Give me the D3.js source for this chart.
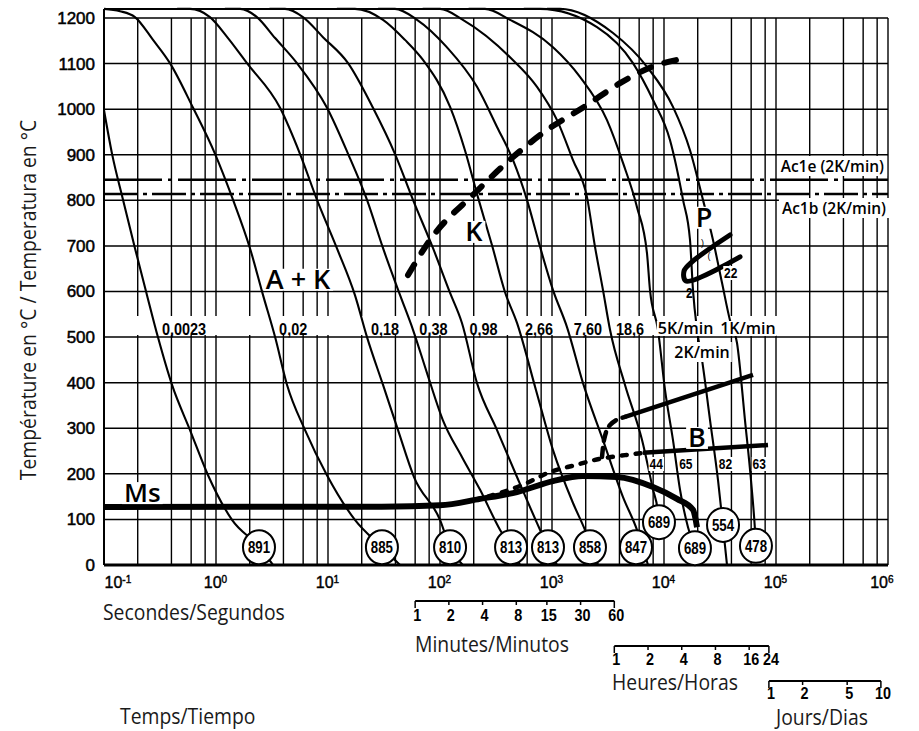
<!DOCTYPE html>
<html lang="fr">
<head>
<meta charset="utf-8">
<title>Diagramme TRC / Diagrama TRC</title>
<script src="https://cdn.jsdelivr.net/npm/d3@7/dist/d3.min.js"></script>
<style>
  html, body { margin: 0; padding: 0; background: #fff; }
  svg { display: block; }
</style>
</head>
<body>
<svg id="cct" width="919" height="731"></svg>
<script>
// ---------- axes ----------
const tempTicks = [0, 100, 200, 300, 400, 500, 600, 700, 800, 900, 1000, 1100, 1200];
const decadeTicks = [1e-1, 1e0, 1e1, 1e2, 1e3, 1e4, 1e5, 1e6];
const decadeExponents = ["-1", "0", "1", "2", "3", "4", "5", "6"];
const gridSteps = [1, 2, 4, 6, 8];
const minuteTicks = [1, 2, 4, 8, 15, 30, 60];
const hourTicks = [1, 2, 4, 8, 16, 24];
const dayTicks = [1, 2, 5, 10];

// ---------- reference temperatures (°C) ----------
const austenitizingTemp = 1220;
const ac1eTemp = 845;
const ac1bTemp = 814;

// ---------- cooling curves: [time s, temperature °C] ----------
const curve1 = [[0.1,998],[0.118,902],[0.148,801],[0.189,695],[0.242,592],[0.303,500],[0.405,395],[0.586,296],[0.849,197],[1.39,99],[2.45,39],[3.23,0]];
const curve2 = [[0.1,1220],[0.139,1215],[0.189,1202],[0.274,1152],[0.388,1101],[0.624,1003],[0.98,902],[1.42,801],[2.01,695],[2.63,592],[3.37,500],[4.31,395],[6.24,296],[9.79,197],[17.4,99],[30.3,39],[44.0,0]];
const curve3 = [[0.45,1220],[0.586,1220],[0.883,1202],[1.28,1156],[1.89,1101],[3.73,1003],[5.62,902],[7.98,801],[12.0,695],[17.4,592],[22.3,500],[31.0,395],[42.2,296],[58.6,193],[100,99],[123,39],[160,0]];
const curve4 = [[1.2,1220],[1.64,1220],[2.32,1202],[3.37,1156],[5.28,1101],[9.8,1003],[15.1,902],[22.3,801],[31.0,695],[44.0,592],[57.4,516],[76.6,421],[106,318],[157,237],[228,165],[344,77],[431,39],[518,0]];
const curve5 = [[3.0,1220],[4.13,1220],[5.98,1202],[9.02,1158],[15.1,1101],[25.2,1003],[39.6,902],[57.4,801],[86.6,695],[123,597],[157,531],[214,399],[323,296],[487,193],[735,92],[921,39],[1109,0]];
const curve6 = [[12,1220],[17.4,1220],[31.0,1196],[48.7,1152],[70.5,1108],[123,1005],[167,910],[218,807],[291,702],[380,599],[487,531],[719,384],[1021,252],[1540,136],[1970,77],[2576,0]];
const curve7 = [[28,1220],[39.6,1220],[62.4,1196],[115,1136],[214,1049],[323,961],[449,888],[598,801],[782,698],[1021,603],[1361,522],[1892,399],[2853,274],[4306,149],[5741,77],[7197,0]];
const curve8 = [[70,1220],[100,1220],[160,1196],[422,1114],[735,1049],[1109,976],[1540,888],[2053,807],[2421,698],[2853,603],[3296,516],[4487,395],[6368,274],[7983,165],[8836,116],[9020,94]];
const curve9 = [[180,1220],[252,1220],[422,1196],[1021,1136],[1778,1071],[3097,976],[4306,882],[5741,785],[7047,684],[7499,603],[8836,516],[10210,384],[12030,274],[13900,165],[16380,83],[18900,37],[20940,0]];
const curve10 = [[560,1220],[782,1220],[2523,1180],[5284,1101],[7983,1020],[11320,932],[14790,801],[17070,713],[18150,603],[19720,516],[21850,450],[25760,318],[30360,186],[32960,105],[36520,0]];
const curve11 = [[900,1220],[1178,1220],[3507,1167],[7047,1093],[12030,1005],[17070,910],[22290,801],[27380,713],[32960,619],[38820,537],[44870,487],[52840,318],[59800,186],[64940,77],[66220,42]];
const coolingCurves = [curve1, curve2, curve3, curve4, curve5, curve6, curve7, curve8, curve9, curve10, curve11];

// cooling parameter of each curve and the hardness (HV) reached at its end
const coolingRates = ["0,0023", "0,02", "0,18", "0,38", "0,98", "2,66", "7,60", "18,6", "5K/min", "2K/min", "1K/min"];
const hardnessHV = [891, 885, 810, 813, 813, 858, 847, 689, 689, 554, 478];
const hardnessAt = [[2.42,39],[30.3,39],[123,39],[431,39],[921,39],[2183,39],[5623,39],[9020,94],[18900,37],[33650,88],[66220,42]];

// ---------- transformation lines ----------
const msLine = [[0.1,127],[30,128],[100,131],[228,145],[487,160],[1021,184],[1892,195],[3805,193],[7983,171],[13060,145],[18150,121],[19720,83]];
const carbideStart = [[51.8,636],[81.4,713],[205,816],[449,895],[832,948],[2053,1009],[4047,1057],[8660,1097],[13060,1108]];
const bainiteUpperDashed = [[2795,237],[2913,274],[3296,307],[4487,325]];
const bainiteUpper = [[4487,325],[62370,417]];
const bainiteLowerDashed = [[205,143],[344,158],[574,178],[960,204],[1603,219],[2685,233],[4487,241],[6494,246]];
const bainiteLower = [[6494,246],[84850,263]];
const pearliteStart = [[38820,724],[17780,665],[15100,645],[15710,623],[47730,676]];

// phase percentages written next to curves
const bainitePercent = ["44", "65", "82", "63"];       // curves 8..11
const pearlitePercent = ["2", "22"];                  // curves 10, 11

// ---------- drawing ----------
const svg = d3.select("#cct");
const x = d3.scaleLog().domain([0.1, 1e6]).range([104, 888]);
const y = d3.scaleLinear().domain([0, 1200]).range([565, 18]);

const NUM = "'Liberation Sans', Arial, Helvetica, sans-serif";
const SANS = "'Open Sans', 'DejaVu Sans', sans-serif";

const line = d3.line().x(d => x(d[0])).y(d => y(d[1]));
const smooth = d3.line().x(d => x(d[0])).y(d => y(d[1])).curve(d3.curveMonotoneX);

// screen x where a curve reaches a given temperature
function xAtTemp(curve, T) {
  for (let i = 1; i < curve.length; i++) {
    const a = curve[i - 1], b = curve[i];
    if ((a[1] - T) * (b[1] - T) <= 0 && a[1] !== b[1]) {
      const f = (a[1] - T) / (a[1] - b[1]);
      return x(a[0]) + f * (x(b[0]) - x(a[0]));
    }
  }
  return x(curve[curve.length - 1][0]);
}

// text helper with optional horizontal squeeze and white backing box
function label(parent, px, py, str, o) {
  const g = parent.append("g").attr("transform", `translate(${px},${py})`);
  const inner = g.append("g").attr("transform", `scale(${o.sx || 1},1)`);
  const t = inner.append("text")
    .attr("text-anchor", o.anchor || "start")
    .attr("font-family", o.family || SANS)
    .attr("font-size", o.size)
    .attr("font-weight", o.weight || "normal")
    .attr("fill", o.fill || "#000")
    .text(str);
  if (o.stroke) t.attr("stroke", o.fill || "#000").attr("stroke-width", o.stroke);
  if (o.box) {
    const b = t.node().getBBox();
    const top = o.boxTop != null ? o.boxTop : 0.8 * o.size;
    const bot = o.boxBottom != null ? o.boxBottom : 0.25 * o.size;
    inner.insert("rect", "text")
      .attr("x", b.x - o.box).attr("width", b.width + 2 * o.box)
      .attr("y", -top).attr("height", top + bot)
      .attr("fill", "#fff");
  }
  return t;
}

const gGrid = svg.append("g");
const gMarks = svg.append("g");
const gLabels = svg.append("g");

// vertical grid
const gridTimes = [];
for (let e = -1; e <= 5; e++) gridSteps.forEach(k => gridTimes.push(+(k * Math.pow(10, e)).toPrecision(3)));
gridTimes.push(1e6);
gGrid.selectAll("line.v").data(gridTimes).join("line")
  .attr("x1", d => x(d)).attr("x2", d => x(d))
  .attr("y1", y(1200)).attr("y2", y(0))
  .attr("stroke", "#000").attr("stroke-width", 1.4);

// horizontal grid
gGrid.selectAll("line.h").data(tempTicks).join("line")
  .attr("x1", x(0.1)).attr("x2", x(1e6))
  .attr("y1", d => y(d)).attr("y2", d => y(d))
  .attr("stroke", "#000").attr("stroke-width", d => d === 0 ? 2.8 : 1.5);

// band that carries the cooling-rate labels
gGrid.append("rect")
  .attr("x", x(0.1) + 1.5).attr("width", 779 - x(0.1) - 1.5)
  .attr("y", 316).attr("height", 19).attr("fill", "#fff");

// left frame and austenitizing level
gGrid.append("line")
  .attr("x1", x(0.1)).attr("x2", x(0.1))
  .attr("y1", y(austenitizingTemp)).attr("y2", y(0))
  .attr("stroke", "#000").attr("stroke-width", 2);
gGrid.append("line")
  .attr("x1", x(0.1)).attr("x2", x(curve11[1][0]) + 4)
  .attr("y1", y(austenitizingTemp)).attr("y2", y(austenitizingTemp))
  .attr("stroke", "#000").attr("stroke-width", 2);

// Ac1e / Ac1b
gMarks.append("line")
  .attr("x1", x(0.1)).attr("x2", x(1e6))
  .attr("y1", y(ac1eTemp)).attr("y2", y(ac1eTemp))
  .attr("stroke", "#000").attr("stroke-width", 2.6)
  .attr("stroke-dasharray", "58,6,4,6");
gMarks.append("line")
  .attr("x1", x(0.1)).attr("x2", x(1e6))
  .attr("y1", y(ac1bTemp)).attr("y2", y(ac1bTemp))
  .attr("stroke", "#000").attr("stroke-width", 2.6)
  .attr("stroke-dasharray", "34,5,4,5");

// cooling curves
gMarks.selectAll("path.cool").data(coolingCurves).join("path")
  .attr("d", smooth).attr("fill", "none")
  .attr("stroke", "#000").attr("stroke-width", 2.1);

// Ms
gMarks.append("path").attr("d", smooth(msLine))
  .attr("fill", "none").attr("stroke", "#000").attr("stroke-width", 6);

// bainite lines
gMarks.append("path").attr("d", smooth(bainiteLowerDashed))
  .attr("fill", "none").attr("stroke", "#000").attr("stroke-width", 4.5)
  .attr("stroke-linecap", "round").attr("stroke-dasharray", "5,9");
gMarks.append("path").attr("d", line(bainiteLower))
  .attr("fill", "none").attr("stroke", "#000").attr("stroke-width", 4.5);
gMarks.append("path").attr("d", smooth(bainiteUpperDashed))
  .attr("fill", "none").attr("stroke", "#000").attr("stroke-width", 4.5)
  .attr("stroke-linecap", "round").attr("stroke-dasharray", "9,7");
gMarks.append("path").attr("d", line(bainiteUpper))
  .attr("fill", "none").attr("stroke", "#000").attr("stroke-width", 4.5);

// carbide start (dashed)
gMarks.append("path").attr("d", smooth(carbideStart))
  .attr("fill", "none").attr("stroke", "#000").attr("stroke-width", 6)
  .attr("stroke-linecap", "round").attr("stroke-dasharray", "12,14");

// pearlite start
gMarks.append("path")
  .attr("d", d3.line().x(d => x(d[0])).y(d => y(d[1])).curve(d3.curveCatmullRom.alpha(0.5))(pearliteStart))
  .attr("fill", "none").attr("stroke", "#000").attr("stroke-width", 5)
  .attr("stroke-linejoin", "round").attr("stroke-linecap", "round");

// ---------- axes ----------
const yAxis = d3.axisLeft(y).tickValues(tempTicks).tickSize(0).tickPadding(9).tickFormat(d3.format("d"));
svg.append("g").attr("transform", `translate(${x(0.1)},0)`).call(yAxis)
  .call(g => g.select(".domain").remove())
  .call(g => g.selectAll("text")
    .attr("font-family", NUM).attr("font-size", 17).attr("fill", "#000")
    .attr("stroke", "#000").attr("stroke-width", 0.5));

const xAxis = d3.axisBottom(x).tickValues(decadeTicks).tickSize(0).tickPadding(12).tickFormat(() => "10");
const xg = svg.append("g").attr("transform", `translate(0,${y(0)})`).call(xAxis);
xg.select(".domain").remove();
xg.selectAll(".tick text")
  .attr("font-family", NUM).attr("font-size", 16).attr("fill", "#000")
  .attr("stroke", "#000").attr("stroke-width", 0.4)
  .attr("x", (d, i) => i === 0 ? 0 : (i === decadeTicks.length - 1 ? 5 : -1))
  .attr("text-anchor", (d, i) => i === 0 ? "start" : (i === decadeTicks.length - 1 ? "end" : "middle"))
  .each(function (d, i) {
    d3.select(this).append("tspan").attr("dy", "-0.5em").attr("font-size", 10)
      .text(decadeExponents[i]);
  });

// ---------- labels on the diagram ----------
const rateOpts = { family: NUM, size: 17, weight: "bold", sx: 0.85 };
coolingCurves.forEach((c, i) => {
  if (i < 8) {
    label(gLabels, xAtTemp(c, 500) + 4, 335, coolingRates[i], rateOpts);
  }
});
label(gLabels, xAtTemp(curve9, 500) - 1, 334, coolingRates[8], { size: 16, weight: 600, box: 1, boxTop: 13, boxBottom: 2 });
label(gLabels, xAtTemp(curve11, 500) - 15, 334, coolingRates[10], { size: 16, weight: 600, box: 1, boxTop: 13, boxBottom: 2 });
label(gLabels, xAtTemp(curve10, 450), 358, coolingRates[9], { size: 16, weight: 600, anchor: "middle", box: 2, boxTop: 16, boxBottom: 4 });

// bainite percentages below the lower bainite line
[curve8, curve9, curve10, curve11].forEach((c, i) => {
  label(gLabels, xAtTemp(c, 240) + 4, 469, bainitePercent[i],
    { family: NUM, size: 15, weight: "bold", sx: 0.8, box: 1, boxTop: 12, boxBottom: 2 });
});
// pearlite percentages
label(gLabels, xAtTemp(curve10, 590) - 1, 298, pearlitePercent[0],
  { family: NUM, size: 15, weight: "bold", sx: 0.8, anchor: "end" });
label(gLabels, xAtTemp(curve11, 650) + 5, 278, pearlitePercent[1],
  { family: NUM, size: 15, weight: "bold", sx: 0.8, box: 1, boxTop: 12, boxBottom: 2 });
// small crossing ticks on the pearlite band
label(gLabels, x(21400), y(700), ")", { family: NUM, size: 9 });
label(gLabels, x(24500), y(672), "(", { family: NUM, size: 9 });

// Ac labels
label(gLabels, 884, 172, "Ac1e (2K/min)", { size: 15.5, weight: 600, anchor: "end", box: 3, boxTop: 16, boxBottom: 4 });
label(gLabels, 886, 214, "Ac1b (2K/min)", { size: 15.5, weight: 600, anchor: "end", box: 3, boxTop: 16, boxBottom: 4 });

// phase fields
const phaseOpts = { size: 27, weight: 600, anchor: "middle", box: 2, boxTop: 20, boxBottom: 2 };
label(gLabels, x(5.4), y(606), "A + K", phaseOpts);
label(gLabels, x(201), y(711), "K", phaseOpts);
label(gLabels, x(22750), y(742), "P", phaseOpts);
label(gLabels, x(19720), y(259), "B", phaseOpts);
label(gLabels, x(0.151), y(138), "Ms", { size: 26, weight: 600, box: 2, boxTop: 20, boxBottom: 2 });

// hardness circles
const gH = gLabels.selectAll("g.hv").data(hardnessHV).join("g")
  .attr("transform", (d, i) => `translate(${x(hardnessAt[i][0])},${y(hardnessAt[i][1])})`);
gH.append("ellipse").attr("rx", 16).attr("ry", 17)
  .attr("fill", "#fff").attr("stroke", "#000").attr("stroke-width", 2);
gH.append("text").attr("text-anchor", "middle").attr("dy", "0.36em")
  .attr("transform", "scale(0.78,1)")
  .attr("font-family", NUM).attr("font-size", 17).attr("font-weight", "bold")
  .text(d => d);

// ---------- secondary time scales ----------
function timeBracket(ticks, unitSeconds, yLine, yText) {
  const g = svg.append("g");
  const xs = ticks.map(v => x(v * unitSeconds));
  g.append("line").attr("x1", xs[0]).attr("x2", xs[xs.length - 1])
    .attr("y1", yLine).attr("y2", yLine).attr("stroke", "#000").attr("stroke-width", 2);
  g.selectAll("line.t").data(ticks).join("line")
    .attr("x1", d => x(d * unitSeconds)).attr("x2", d => x(d * unitSeconds))
    .attr("y1", yLine).attr("y2", (d, i) => yLine + (i === 0 || i === ticks.length - 1 ? 7 : 4))
    .attr("stroke", "#000").attr("stroke-width", 1.5);
  ticks.forEach(v => {
    label(g, x(v * unitSeconds) + 2, yText, String(v),
      { family: NUM, size: 16, weight: "bold", sx: 0.9, anchor: "middle" });
  });
}
timeBracket(minuteTicks, 60, 601, 621);
timeBracket(hourTicks, 3600, 646, 665);
timeBracket(dayTicks, 86400, 681, 699);

// ---------- titles ----------
const titleOpts = { size: 22, sx: 0.88, fill: "#1a1a1a" };
svg.append("g").attr("transform", "translate(36,300) rotate(-90)")
  .call(g => label(g, 0, 0, "Température en °C / Temperatura en °C", Object.assign({ anchor: "middle" }, titleOpts)));
label(svg, 103, 620, "Secondes/Segundos", titleOpts);
label(svg, 415, 652, "Minutes/Minutos", titleOpts);
label(svg, 612, 690, "Heures/Horas", titleOpts);
label(svg, 120, 724, "Temps/Tiempo", titleOpts);
label(svg, 776, 725, "Jours/Dias", titleOpts);
</script>
</body>
</html>
